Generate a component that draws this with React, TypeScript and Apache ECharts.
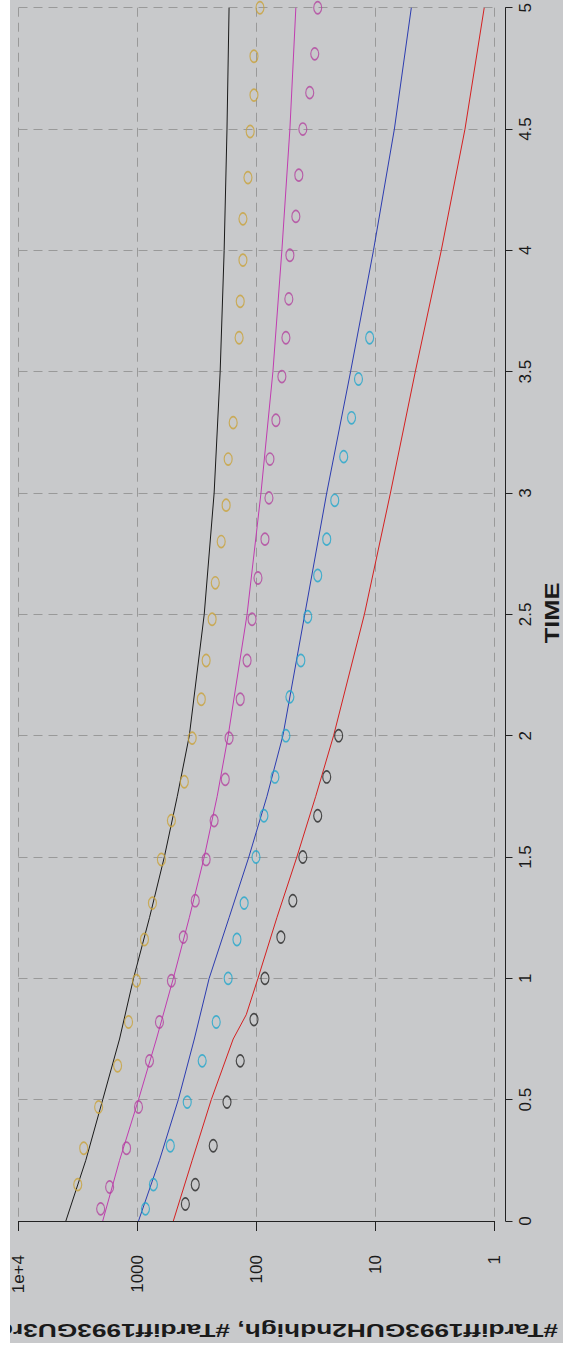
import React, { useEffect, useRef } from "react";
import * as echarts from "echarts";

// Lines (model curves): time -> value
const lineTime = [0, 0.25, 0.5, 0.75, 1, 1.25, 1.5, 1.75, 2, 2.5, 3, 3.5, 4, 4.5, 5];
const blackLine = [4000, 2720, 1960, 1415, 1080, 793, 595, 463, 367, 275, 227, 202, 187, 177, 170];
const magentaLine = [1960, 1415, 981, 693, 500, 367, 275, 214, 173, 120, 91.7, 72.8, 61.2, 52.4, 46.7];
const blueLine = [981, 654, 454, 333, 250, 170, 116, 81.7, 60, 39.3, 25.7, 16.2, 10.4, 6.94, 5.0];
const redLineTime = [0, 0.25, 0.5, 0.75, 0.85, 1, 1.25, 1.5, 1.75, 2, 2.5, 3, 3.5, 4, 4.5, 5];
const redLine = [500, 347, 240, 157, 122, 97.2, 67.4, 45.8, 31.8, 22.5, 12.4, 7.49, 4.63, 2.8, 1.77, 1.22];

// Observed points
const goldTime = [0.15, 0.3, 0.47, 0.64, 0.82, 0.99, 1.16, 1.31, 1.49, 1.65, 1.81, 1.99, 2.15, 2.31, 2.48, 2.63, 2.8, 2.95, 3.14, 3.29, 3.64, 3.79, 3.96, 4.13, 4.3, 4.49, 4.64, 4.8, 5.0];
const goldVal = [3178, 2830, 2121, 1470, 1189, 1019, 874, 749, 630, 519, 404, 347, 291, 265, 236, 222, 198, 180, 173, 157, 140, 137, 130, 130, 118, 113, 105, 105, 93.5];
const magentaTime = [0.05, 0.14, 0.3, 0.47, 0.66, 0.82, 0.99, 1.17, 1.32, 1.49, 1.65, 1.82, 1.99, 2.15, 2.31, 2.48, 2.65, 2.81, 2.98, 3.14, 3.3, 3.48, 3.64, 3.8, 3.98, 4.14, 4.31, 4.5, 4.65, 4.81, 5.0];
const magentaVal = [2040, 1715, 1236, 981, 793, 654, 519, 412, 327, 265, 227, 183, 170, 137, 120, 109, 97.2, 84.9, 78.6, 77.1, 68.7, 61.2, 56.6, 53.5, 52.4, 46.7, 44.1, 40.8, 35.7, 32.4, 30.6];
const cyanTime = [0.05, 0.15, 0.31, 0.49, 0.66, 0.82, 1.0, 1.16, 1.31, 1.5, 1.67, 1.83, 2.0, 2.16, 2.31, 2.49, 2.66, 2.81, 2.97, 3.15, 3.31, 3.47, 3.64];
const cyanVal = [857, 735, 530, 382, 286, 218, 173, 146, 127, 101, 86.6, 70.0, 56.6, 52.4, 42.4, 37.1, 30.6, 25.7, 22.0, 18.5, 15.9, 13.9, 11.2];
const blackTime = [0.07, 0.15, 0.31, 0.49, 0.66, 0.83, 1.0, 1.17, 1.32, 1.5, 1.67, 1.83, 2.0];
const blackVal = [396, 327, 231, 177, 137, 105, 84.9, 62.4, 49.5, 40.8, 30.6, 25.7, 20.4];

const timeTitle = "TIME";
const valueTitle = "#Tardiff1993GUH2ndhigh, #Tardiff1993GU3rdhigh";

const FONT = "'Liberation Sans', Arial, Helvetica, sans-serif";

function pairs(vals: number[], times: number[]) {
  return vals.map((v, i) => [v, times[i]]);
}

export default function App() {
  const ref = useRef<HTMLDivElement>(null);
  useEffect(() => {
    if (!ref.current) return;
    const chart = echarts.init(ref.current, null, { renderer: "svg" });
    const lineSeries = (name: string, vals: number[], times: number[], color: string) => ({
      name,
      type: "line",
      data: pairs(vals, times),
      showSymbol: false,
      symbol: "none",
      lineStyle: { color, width: 1 },
      z: 2,
    });
    const pointSeries = (name: string, vals: number[], times: number[], color: string) => ({
      name,
      type: "scatter",
      data: pairs(vals, times),
      symbol: "circle",
      symbolSize: [8, 12],
      itemStyle: { color: "rgba(0,0,0,0)", borderColor: color, borderWidth: 1.4 },
      z: 3,
    });
    chart.setOption({
      animation: false,
      backgroundColor: "#c8c9cb",
      grid: { left: 6.5, right: 68.5, top: 7.5, bottom: 122, containLabel: false },
      xAxis: {
        type: "log",
        logBase: 10,
        inverse: true,
        min: 1,
        max: 10000,
        position: "bottom",
        offset: 14,
        axisLine: { show: true, lineStyle: { color: "#222", width: 1 } },
        axisTick: { show: true, length: 10, lineStyle: { color: "#222" } },
        axisLabel: {
          rotate: 90,
          margin: 20,
          color: "#1a1a1a",
          fontSize: 17,
          fontFamily: FONT,
          formatter: (v: number) => (v >= 10000 ? "1e+4" : String(Math.round(v))),
        },
        minorTick: { show: false },
        splitLine: { show: true, lineStyle: { color: "#999", type: [9, 6], width: 1 } },
      },
      yAxis: {
        type: "value",
        min: 0,
        max: 5,
        interval: 0.5,
        position: "right",
        offset: 11,
        axisLine: { show: true, lineStyle: { color: "#222", width: 1 } },
        axisTick: { show: true, length: 7, lineStyle: { color: "#222" } },
        axisLabel: {
          rotate: 90,
          margin: 11,
          color: "#1a1a1a",
          fontSize: 17,
          fontFamily: FONT,
        },
        splitLine: { show: true, lineStyle: { color: "#999", type: [9, 6], width: 1 } },
      },
      graphic: [
        {
          type: "text",
          x: 542,
          y: 613,
          rotation: Math.PI / 2,
          scaleX: 1.27,
          style: {
            text: timeTitle,
            fontSize: 20,
            fontWeight: "bold",
            fontFamily: FONT,
            fill: "#1a1a1a",
            textAlign: "center",
            textVerticalAlign: "middle",
          },
        },
        {
          type: "text",
          x: 548,
          y: 1330,
          rotation: Math.PI,
          scaleX: 1.46,
          style: {
            text: valueTitle,
            fontSize: 18,
            fontWeight: "bold",
            fontFamily: FONT,
            fill: "#1a1a1a",
            textAlign: "left",
            textVerticalAlign: "middle",
          },
        },
      ],
      series: [
        lineSeries("model 1", blackLine, lineTime, "#1a1a1a"),
        lineSeries("model 2", magentaLine, lineTime, "#c03cb0"),
        lineSeries("model 3", blueLine, lineTime, "#2c3cb0"),
        lineSeries("model 4", redLine, redLineTime, "#d42020"),
        pointSeries("obs 1", goldVal, goldTime, "#c9a23a"),
        pointSeries("obs 2", magentaVal, magentaTime, "#b3449f"),
        pointSeries("obs 3", cyanVal, cyanTime, "#20a6cc"),
        pointSeries("obs 4", blackVal, blackTime, "#262626"),
      ],
    });
    return () => chart.dispose();
  }, []);
  return (
    <div
      ref={ref}
      style={{ position: "absolute", left: 10, top: 0, width: 553, height: 1343 }}
    />
  );
}
